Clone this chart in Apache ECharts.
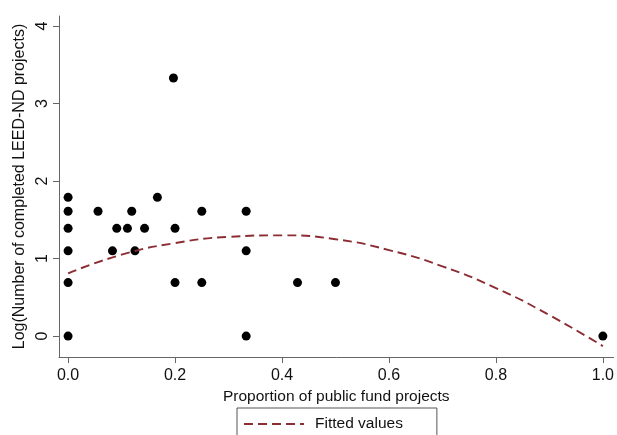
<!DOCTYPE html>
<html>
<head>
<meta charset="utf-8">
<script src="https://cdn.jsdelivr.net/npm/echarts@6/dist/echarts.min.js"></script>
<style>
html,body{margin:0;padding:0;background:#fff;}
#c{width:617px;height:435px;}
</style>
</head>
<body>
<div id="c"></div>
<script>
// Scatter observations (proportion of public fund projects, log count)
var pointX = [0, 0, 0, 0, 0, 0, 0.056, 0.083, 0.091, 0.111, 0.119, 0.125, 0.143, 0.167, 0.197, 0.2, 0.2, 0.25, 0.25, 0.333, 0.333, 0.333, 0.429, 0.5, 1.0];
var pointY = [1.79, 1.61, 1.39, 1.10, 0.69, 0, 1.61, 1.10, 1.39, 1.39, 1.61, 1.10, 1.39, 1.79, 3.33, 1.39, 0.69, 1.61, 0.69, 1.61, 1.10, 0, 0.69, 0.69, 0];
// Fitted values
var fitX = [0, 0.1, 0.2, 0.3, 0.4, 0.5, 0.6, 0.7, 0.8, 0.9, 1.0];
var fitY = [0.81, 1.05, 1.20, 1.28, 1.30, 1.25, 1.11, 0.90, 0.62, 0.27, -0.13];
var xTicks = [0, 0.2, 0.4, 0.6, 0.8, 1.0];
var yTicks = [0, 1, 2, 3, 4];
var xTitle = 'Proportion of public fund projects';
var yTitle = 'Log(Number of completed LEED-ND projects)';
var legendLabel = 'Fitted values';

var scatterData = pointX.map(function (x, i) { return [x, pointY[i]]; });
var fitData = fitX.map(function (x, i) { return [x, fitY[i]]; });

var FONT = 'Liberation Sans, Arial, sans-serif';
var chart = echarts.init(document.getElementById('c'), null, {renderer: 'canvas'});
chart.setOption({
  animation: false,
  backgroundColor: '#fff',
  grid: {left: 59, right: 2, top: 16, bottom: 78, containLabel: false},
  legend: {
    data: [legendLabel],
    left: 237, top: 408,
    padding: [8, 34, 20, 6],
    itemWidth: 60, itemHeight: 14, itemGap: 10,
    itemStyle: {opacity: 0},
    lineStyle: {width: 2},
    borderColor: '#555', borderWidth: 1, borderRadius: 0,
    textStyle: {fontFamily: FONT, fontSize: 15.5, color: '#111', padding: [0, 0, 0, 6]}
  },
  xAxis: {
    type: 'value', min: -0.017, max: 1.02,
    name: xTitle, nameLocation: 'middle', nameGap: 23,
    nameTextStyle: {fontFamily: FONT, fontSize: 15.5, color: '#111'},
    splitLine: {show: false},
    axisLine: {show: true, onZero: false, lineStyle: {color: '#666', width: 1}},
    axisTick: {show: true, length: 6, lineStyle: {color: '#666'}, customValues: xTicks},
    axisLabel: {fontFamily: FONT, fontSize: 16, color: '#111', margin: 11, customValues: xTicks,
      formatter: function (v) { return v.toFixed(1); }}
  },
  yAxis: {
    type: 'value', min: -0.27, max: 4.13,
    name: yTitle, nameLocation: 'middle', nameGap: 25,
    nameTextStyle: {fontFamily: FONT, fontSize: 16, color: '#111'},
    splitLine: {show: false},
    axisLine: {show: true, onZero: false, lineStyle: {color: '#666', width: 1}},
    axisTick: {show: true, length: 6, lineStyle: {color: '#666'}, customValues: yTicks},
    axisLabel: {fontFamily: FONT, fontSize: 16, color: '#111', margin: 8, rotate: 90, customValues: yTicks,
      formatter: function (v) { return String(v); }}
  },
  series: [
    {
      type: 'scatter', name: 'obs', data: scatterData,
      symbol: 'circle', symbolSize: 9,
      itemStyle: {color: '#000', opacity: 1}
    },
    {
      type: 'line', name: legendLabel, data: fitData,
      smooth: true, symbol: 'none',
      lineStyle: {color: '#8c2d34', width: 1.9, type: [9, 5]},
      itemStyle: {color: '#8c2d34'}
    }
  ]
});
</script>
</body>
</html>
